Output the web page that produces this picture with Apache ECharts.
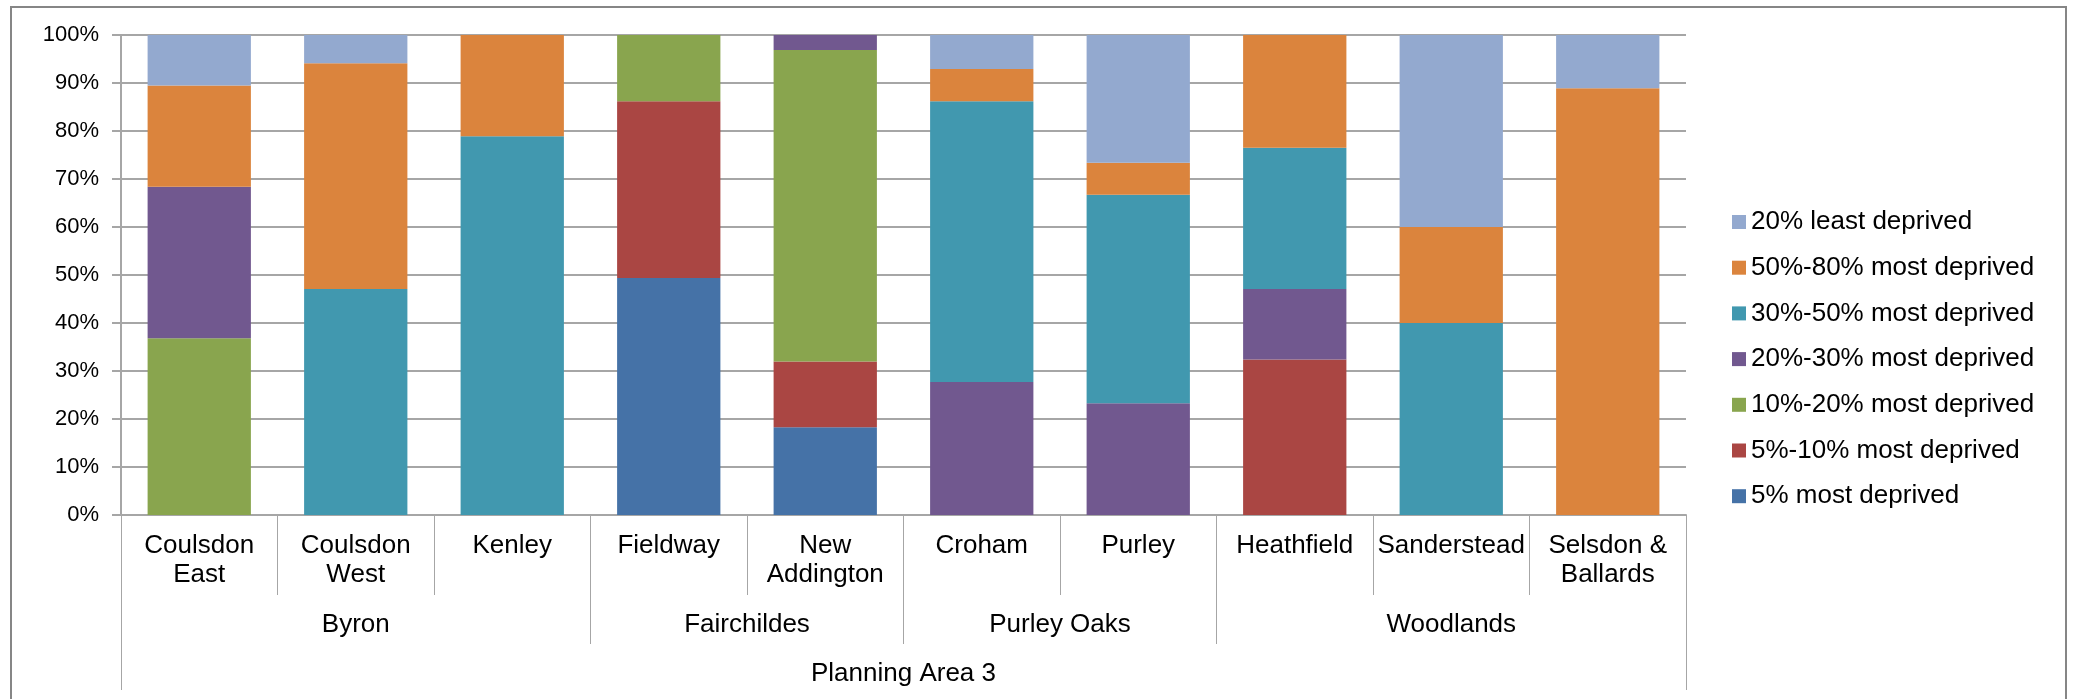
<!DOCTYPE html>
<html>
<head>
<meta charset="utf-8">
<script src="https://cdn.jsdelivr.net/npm/echarts@6/dist/echarts.min.js"></script>
<style>
  html, body { margin: 0; padding: 0; background: #fff; }
  #chart { width: 2073px; height: 699px; }
</style>
</head>
<body>
<div id="chart"></div>
<script>
// wards (bottom level), their groups and the planning area
const wards = ['Coulsdon\nEast', 'Coulsdon\nWest', 'Kenley', 'Fieldway', 'New\nAddington',
  'Croham', 'Purley', 'Heathfield', 'Sanderstead', 'Selsdon &\nBallards'];
const groups = ['Byron', 'Fairchildes', 'Purley Oaks', 'Woodlands'];
const groupSizes = [3, 2, 2, 3];
const areaName = 'Planning Area 3';

// share of LSOAs per deprivation band (%), stacked bottom -> top
const most5 = [0, 0, 0, 49.4, 18.3, 0, 0, 0, 0, 0];
const most5to10 = [0, 0, 0, 36.8, 13.7, 0, 0, 32.4, 0, 0];
const most10to20 = [36.8, 0, 0, 13.8, 64.9, 0, 0, 0, 0, 0];
const most20to30 = [31.6, 0, 0, 0, 3.1, 27.7, 23.3, 14.7, 0, 0];
const most30to50 = [0, 47.1, 78.9, 0, 0, 58.5, 43.4, 29.4, 40, 0];
const most50to80 = [21.1, 47.0, 21.1, 0, 0, 6.7, 6.7, 23.5, 20, 88.9];
const least20 = [10.5, 5.9, 0, 0, 0, 7.1, 26.6, 0, 40, 11.1];

const bandNames = ['5% most deprived', '5%-10% most deprived', '10%-20% most deprived',
  '20%-30% most deprived', '30%-50% most deprived', '50%-80% most deprived', '20% least deprived'];
const bandValues = [most5, most5to10, most10to20, most20to30, most30to50, most50to80, least20];
const colors = ['#4572a7', '#aa4643', '#89a54e', '#71588f', '#4198af', '#db843d', '#93a9cf'];

// group boundaries and centres on a 0..n value scale
const bounds = [0];
const centers = [];
groupSizes.forEach(function (s, i) {
  centers.push(bounds[i] + s / 2);
  bounds.push(bounds[i] + s);
});

const font = 'Liberation Sans, Arial, sans-serif';
const grey = '#a6a6a6';

const chart = echarts.init(document.getElementById('chart'));

const option = {
  animation: false,
  color: colors,
  textStyle: { fontFamily: font },
  graphic: [{
    type: 'rect',
    shape: { x: 11, y: 7, width: 2055, height: 720 },
    style: { fill: 'none', stroke: '#868686', lineWidth: 2 },
    silent: true
  }],
  grid: { left: 121, right: 387, top: 35, bottom: 184 },
  legend: {
    orient: 'vertical',
    left: 1727,
    top: 204,
    itemWidth: 14,
    itemHeight: 14,
    itemGap: 19.7,
    icon: 'rect',
    textStyle: { fontSize: 26, lineHeight: 26, color: '#000', fontFamily: font },
    data: bandNames.slice().reverse()
  },
  xAxis: [
    {
      type: 'category',
      data: wards,
      position: 'bottom',
      axisLine: { lineStyle: { color: grey, width: 2 } },
      axisTick: { show: true, interval: 0, length: 80, lineStyle: { color: grey } },
      axisLabel: { interval: 0, margin: 16, fontSize: 26, lineHeight: 29, color: '#000' }
    },
    {
      type: 'value',
      min: 0,
      max: wards.length,
      position: 'bottom',
      splitLine: { show: false },
      axisLine: { show: false },
      axisTick: { show: true, customValues: bounds, length: 129, lineStyle: { color: grey } },
      axisLabel: {
        customValues: centers,
        margin: 95.5,
        fontSize: 26,
        lineHeight: 29,
        color: '#000',
        formatter: function (v) { return groups[centers.indexOf(v)] || ''; }
      }
    },
    {
      type: 'value',
      min: 0,
      max: wards.length,
      position: 'bottom',
      splitLine: { show: false },
      axisLine: { show: false },
      axisTick: { show: true, customValues: [0, wards.length], length: 175, lineStyle: { color: grey } },
      axisLabel: {
        customValues: [wards.length / 2],
        margin: 144.5,
        fontSize: 26,
        lineHeight: 29,
        color: '#000',
        formatter: function () { return areaName; }
      }
    }
  ],
  yAxis: {
    type: 'value',
    min: 0,
    max: 100,
    interval: 10,
    axisLine: { show: true, lineStyle: { color: grey, width: 2 } },
    axisTick: { show: true, length: 9, lineStyle: { color: grey, width: 2 } },
    splitLine: { lineStyle: { color: grey, width: 2 } },
    axisLabel: { formatter: '{value}%', fontSize: 22, margin: 22, color: '#000' }
  },
  series: bandNames.map(function (name, i) {
    return {
      name: name,
      type: 'bar',
      stack: 'total',
      xAxisIndex: 0,
      barCategoryGap: '34%',
      data: bandValues[i]
    };
  })
};

chart.setOption(option);
</script>
</body>
</html>
